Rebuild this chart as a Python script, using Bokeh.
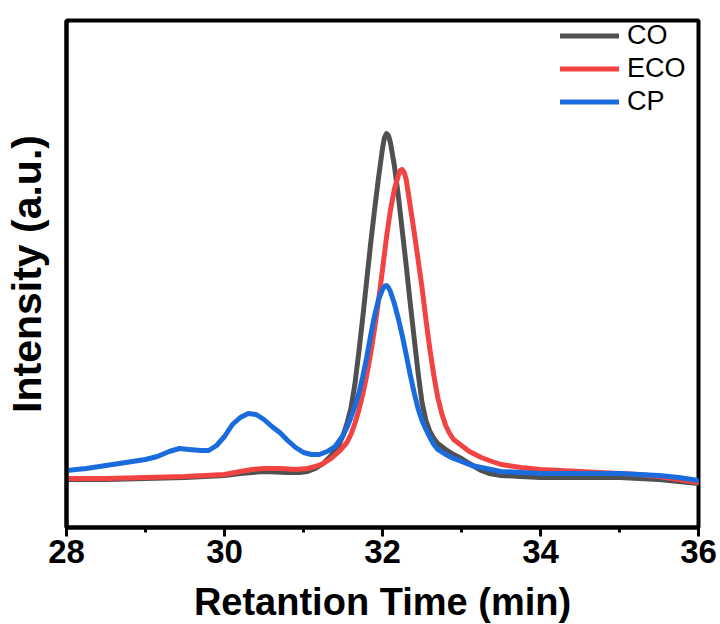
from bokeh.plotting import figure
from bokeh.models import Range1d, FixedTicker, Legend, LegendItem
from bokeh.embed import file_html
from bokeh.resources import INLINE

# Retention time (min) and intensity (a.u.)
co_x = [28.0, 28.5, 29.0, 29.5, 30.0, 30.2, 30.35, 30.5, 30.65, 30.8, 30.95, 31.05, 31.15, 31.25,
        31.35, 31.45, 31.5, 31.55, 31.6, 31.65, 31.7, 31.75, 31.8, 31.85, 31.9, 31.95, 32.0,
        32.025, 32.05, 32.075, 32.1, 32.15, 32.2, 32.25, 32.3, 32.35, 32.4, 32.45, 32.5, 32.55,
        32.6, 32.65, 32.7, 32.8, 32.9, 33.0, 33.1, 33.25, 33.35, 33.5, 33.75, 34.0, 34.5, 35.0,
        35.25, 35.5, 35.75, 36.0]
co_y = [48, 48, 49, 50, 52, 54, 55, 56, 55.5, 55, 55, 56, 59, 64,
        72, 83, 92, 104, 119, 143, 175, 210, 247, 284, 318, 350, 379,
        390, 394, 392, 385, 362, 332, 297, 262, 225, 190, 155, 125, 107,
        96, 89, 84, 78, 73, 69, 64, 57, 54, 52, 51, 50, 50, 50,
        49, 48, 46, 44]

eco_x = [28.0, 28.5, 29.0, 29.5, 30.0, 30.2, 30.35, 30.5, 30.7, 30.9, 31.05, 31.15, 31.25, 31.35,
         31.45, 31.55, 31.6, 31.65, 31.7, 31.75, 31.8, 31.85, 31.9, 31.95, 32.0, 32.05, 32.1,
         32.15, 32.2, 32.225, 32.25, 32.275, 32.3, 32.35, 32.4, 32.45, 32.5, 32.55, 32.6, 32.65,
         32.7, 32.75, 32.8, 32.85, 32.9, 33.0, 33.1, 33.25, 33.35, 33.5, 33.75, 34.0, 34.5, 35.0,
         35.25, 35.5, 35.75, 36.0]
eco_y = [49, 49, 50, 51, 53, 56, 58, 59, 59, 58, 59, 61, 64, 69,
         76, 85, 93, 104, 117, 133, 152, 174, 199, 227, 258, 290, 317,
         338, 352, 357, 358, 355, 348, 322, 296, 268, 240, 208, 178, 152,
         130, 114, 102, 94, 88, 82, 76, 70, 67, 63, 60, 58, 56, 54,
         53, 51, 48, 45]

cp_x = [28.0, 28.25, 28.5, 28.75, 29.0, 29.15, 29.3, 29.43, 29.55, 29.7, 29.8, 29.9, 30.0, 30.1,
        30.2, 30.3, 30.4, 30.5, 30.6, 30.7, 30.8, 30.9, 31.0, 31.1, 31.2, 31.3, 31.4, 31.5,
        31.55, 31.6, 31.65, 31.7, 31.75, 31.8, 31.85, 31.9, 31.95, 32.0, 32.025, 32.05, 32.075,
        32.1, 32.15, 32.2, 32.25, 32.3, 32.35, 32.4, 32.45, 32.5, 32.55, 32.6, 32.65, 32.7,
        32.8, 32.9, 33.0, 33.13, 33.25, 33.5, 33.75, 34.0, 34.5, 35.0, 35.25, 35.5, 35.75, 36.0]
cp_y = [57, 59, 62, 65, 68, 71, 76, 79, 78, 77, 77, 82, 91, 103,
        110, 114, 113, 108, 101, 95, 87, 80, 75, 73, 73, 76, 81, 92,
        100, 110, 121, 134, 151, 170, 192, 212, 228, 238, 241, 242, 240,
        236, 224, 209, 192, 173, 153, 135, 119, 107, 98, 90, 83, 78,
        73, 69, 66, 62, 60, 56, 55, 54, 54, 54, 53, 52, 50, 47]

x_ticks = [28, 30, 32, 34, 36]
x_minor = [29, 31, 33, 35]

series = [("CO", co_x, co_y, "#505050"),
          ("ECO", eco_x, eco_y, "#F24343"),
          ("CP", cp_x, cp_y, "#1A6CDD")]

FONT = "Liberation Sans"

p = figure(width=720, height=624, output_backend="svg", toolbar_location=None,
           x_range=Range1d(28, 36), y_range=Range1d(0, 507),
           frame_width=632, frame_height=507,
           min_border_left=65, min_border_right=23, min_border_top=20, min_border_bottom=10)

p.grid.visible = False
p.outline_line_color = "black"
p.outline_line_width = 4
p.background_fill_color = "white"
p.border_fill_color = "white"

items = []
for name, xs, ys, col in series:
    r = p.line(xs, ys, line_color=col, line_width=5, line_join="round", line_cap="round")
    items.append(LegendItem(label=name, renderers=[r]))

# x axis
xa = p.xaxis[0]
xa.ticker = FixedTicker(ticks=x_ticks, minor_ticks=x_minor)
xa.axis_line_width = 4
xa.major_tick_line_width = 3
xa.major_tick_in = 0
xa.major_tick_out = 9
xa.minor_tick_line_width = 3
xa.minor_tick_in = 0
xa.minor_tick_out = 5
xa.major_label_text_font = FONT
xa.major_label_text_font_style = "bold"
xa.major_label_text_font_size = "33px"
xa.major_label_text_color = "black"
xa.major_label_text_line_height = 0.9
xa.major_label_standoff = 3
xa.axis_label = "Retantion Time (min)"
xa.axis_label_text_font = FONT
xa.axis_label_text_font_style = "bold"
xa.axis_label_text_font_size = "38px"
xa.axis_label_text_color = "black"
xa.axis_label_text_line_height = 0.9
xa.axis_label_standoff = 15

# y axis (no ticks)
ya = p.yaxis[0]
ya.ticker = FixedTicker(ticks=[])
ya.axis_line_width = 4
ya.major_tick_out = 0
ya.major_tick_in = 0
ya.minor_tick_out = 0
ya.minor_tick_in = 0
ya.axis_label = "Intensity (a.u.)"
ya.axis_label_text_font = FONT
ya.axis_label_text_font_style = "bold"
ya.axis_label_text_font_size = "41px"
ya.axis_label_text_color = "black"
ya.axis_label_text_line_height = 0.9
ya.axis_label_standoff = 17

legend = Legend(items=items, location="top_right")
legend.border_line_color = None
legend.background_fill_alpha = 0
legend.label_text_font = FONT
legend.label_text_font_size = "27px"
legend.label_text_color = "black"
legend.glyph_width = 59
legend.glyph_height = 27
legend.label_height = 27
legend.label_width = 71
legend.label_standoff = 8
legend.spacing = 2
legend.margin = 0
legend.padding = 6
p.add_layout(legend)

open("out.html", "w").write(file_html(p, INLINE))
